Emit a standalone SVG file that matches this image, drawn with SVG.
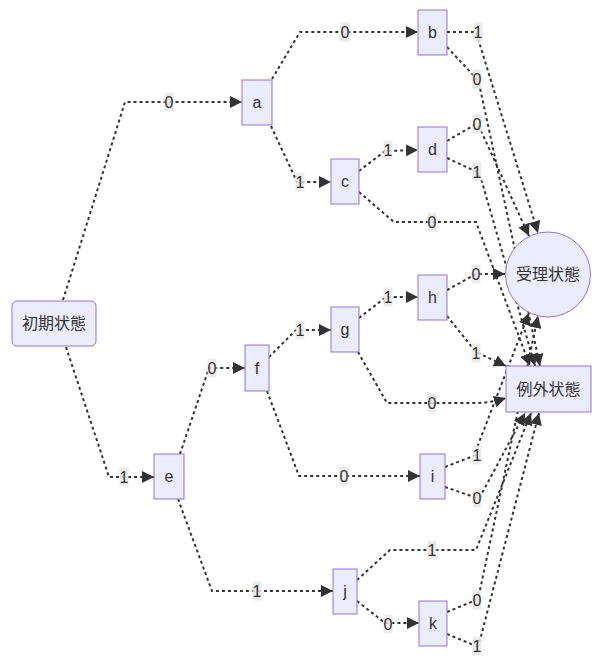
<svg xmlns="http://www.w3.org/2000/svg" width="597" height="665" viewBox="0 0 597 665">
<style>
.edge{fill:none;stroke:#333;stroke-width:2;stroke-dasharray:3 3;marker-end:url(#arr)}
.lb rect{fill:#e8e8e8;opacity:0.85}
.lb text{font-family:"Liberation Sans","Noto Sans CJK JP",sans-serif;font-size:16px;fill:#333;text-anchor:middle;dominant-baseline:central}
.node rect,.node circle{fill:#ECECFF;stroke:#9370DB;stroke-width:1}
.node text{font-family:"Liberation Sans","Noto Sans CJK JP",sans-serif;font-size:16px;fill:#333;text-anchor:middle;dominant-baseline:central}
</style>
<defs>
<marker id="arr" viewBox="0 0 10 10" refX="10" refY="5" markerWidth="12" markerHeight="12" markerUnits="userSpaceOnUse" orient="auto">
<path d="M0,0 L10,5 L0,10 z" fill="#333"/>
</marker>
</defs>
<g id="edges">
<path class="edge" d="M63,300 L125,102 L242,102"/>
<path class="edge" d="M66,347 L109,477 L154,477"/>
<path class="edge" d="M272,79 L300,32 L418,32"/>
<path class="edge" d="M271,126 L297,182 L331,182"/>
<path class="edge" d="M359,171 L385,151 L418,150"/>
<path class="edge" d="M359,192 L394,222 L476,222 L530,366"/>
<path class="edge" d="M447,32 L476,32 L480,45 L538,233"/>
<path class="edge" d="M447,47 L476,78 L480,88 L540,366"/>
<path class="edge" d="M447,141 L476,124 L482,133 L529,236"/>
<path class="edge" d="M447,158 L477,172 L482,182 L535,366"/>
<path class="edge" d="M447,290 L476,274 L505,274"/>
<path class="edge" d="M447,316 L476,352 L506,366"/>
<path class="edge" d="M359,318 L386,297 L418,297"/>
<path class="edge" d="M358,352 L387,403 L474,403 Q490,403 506,398"/>
<path class="edge" d="M269,357 L296,330 L331,330"/>
<path class="edge" d="M267,391 L299,476 L420,476"/>
<path class="edge" d="M180,454 L209,368 L245,368"/>
<path class="edge" d="M178,499 L212,591 L333,591"/>
<path class="edge" d="M357,601 L385,623 L419,623"/>
<path class="edge" d="M357,580 L390,550 L476,550 L531,413"/>
<path class="edge" d="M445,467 L476,455 L478,445 L529,313"/>
<path class="edge" d="M445,487 L477,498 L480,497 L525,413"/>
<path class="edge" d="M447,612 L476,600 L480,590 L538,316"/>
<path class="edge" d="M447,634 L476,646 L480,640 L539,413"/>
</g>
<g id="edge-labels">
<g class="lb"><rect x="164.5" y="92.5" width="9" height="19"/><text x="169" y="102">0</text></g>
<g class="lb"><rect x="119.5" y="467.5" width="9" height="19"/><text x="124" y="477">1</text></g>
<g class="lb"><rect x="340.5" y="22.5" width="9" height="19"/><text x="345" y="32">0</text></g>
<g class="lb"><rect x="295.5" y="172.5" width="9" height="19"/><text x="300" y="182">1</text></g>
<g class="lb"><rect x="383.5" y="140.5" width="9" height="19"/><text x="388" y="150">1</text></g>
<g class="lb"><rect x="427.5" y="212.5" width="9" height="19"/><text x="432" y="222">0</text></g>
<g class="lb"><rect x="473.5" y="22.5" width="9" height="19"/><text x="478" y="32">1</text></g>
<g class="lb"><rect x="472.5" y="69.5" width="9" height="19"/><text x="477" y="79">0</text></g>
<g class="lb"><rect x="472.5" y="114.5" width="9" height="19"/><text x="477" y="124">0</text></g>
<g class="lb"><rect x="472.5" y="162.5" width="9" height="19"/><text x="477" y="172">1</text></g>
<g class="lb"><rect x="471.5" y="264.5" width="9" height="19"/><text x="476" y="274">0</text></g>
<g class="lb"><rect x="471.5" y="343.5" width="9" height="19"/><text x="476" y="353">1</text></g>
<g class="lb"><rect x="383.5" y="287.5" width="9" height="19"/><text x="388" y="297">1</text></g>
<g class="lb"><rect x="427.5" y="393.5" width="9" height="19"/><text x="432" y="403">0</text></g>
<g class="lb"><rect x="295.5" y="320.5" width="9" height="19"/><text x="300" y="330">1</text></g>
<g class="lb"><rect x="339.5" y="466.5" width="9" height="19"/><text x="344" y="476">0</text></g>
<g class="lb"><rect x="207.5" y="358.5" width="9" height="19"/><text x="212" y="368">0</text></g>
<g class="lb"><rect x="252.5" y="581.5" width="9" height="19"/><text x="257" y="591">1</text></g>
<g class="lb"><rect x="383.5" y="614.5" width="9" height="19"/><text x="388" y="624">0</text></g>
<g class="lb"><rect x="427.5" y="540.5" width="9" height="19"/><text x="432" y="550">1</text></g>
<g class="lb"><rect x="472.5" y="445.5" width="9" height="19"/><text x="477" y="455">1</text></g>
<g class="lb"><rect x="472.5" y="488.5" width="9" height="19"/><text x="477" y="498">0</text></g>
<g class="lb"><rect x="472.5" y="590.5" width="9" height="19"/><text x="477" y="600">0</text></g>
<g class="lb"><rect x="472.5" y="636.5" width="9" height="19"/><text x="477" y="646">1</text></g>
</g>
<g id="node-start" class="node"><rect x="12" y="301" width="84" height="45" rx="5" ry="5"/><text x="54" y="323.5">初期状態</text></g>
<g id="node-a" class="node"><rect x="242" y="80" width="30" height="45"/><text x="257" y="102.5">a</text></g>
<g id="node-b" class="node"><rect x="418" y="10" width="29" height="45"/><text x="432.5" y="32.5">b</text></g>
<g id="node-c" class="node"><rect x="331" y="159" width="28" height="45"/><text x="345" y="181.5">c</text></g>
<g id="node-d" class="node"><rect x="418" y="127" width="29" height="45"/><text x="432.5" y="149.5">d</text></g>
<g id="node-e" class="node"><rect x="154" y="454" width="30" height="45"/><text x="169" y="476.5">e</text></g>
<g id="node-f" class="node"><rect x="245" y="345" width="24" height="46"/><text x="257" y="368">f</text></g>
<g id="node-g" class="node"><rect x="331" y="307" width="28" height="45"/><text x="345" y="329.5">g</text></g>
<g id="node-h" class="node"><rect x="418" y="275" width="29" height="45"/><text x="432.5" y="297.5">h</text></g>
<g id="node-i" class="node"><rect x="420" y="454" width="25" height="45"/><text x="432.5" y="476.5">i</text></g>
<g id="node-j" class="node"><rect x="333" y="569" width="24" height="45"/><text x="345" y="591.5">j</text></g>
<g id="node-k" class="node"><rect x="419" y="601" width="28" height="45"/><text x="433" y="623.5">k</text></g>
<g id="node-accept" class="node"><circle cx="548" cy="274.5" r="42.5"/><text x="548" y="274.5">受理状態</text></g>
<g id="node-error" class="node"><rect x="506" y="366" width="85" height="46"/><text x="548.5" y="389">例外状態</text></g>
</svg>
